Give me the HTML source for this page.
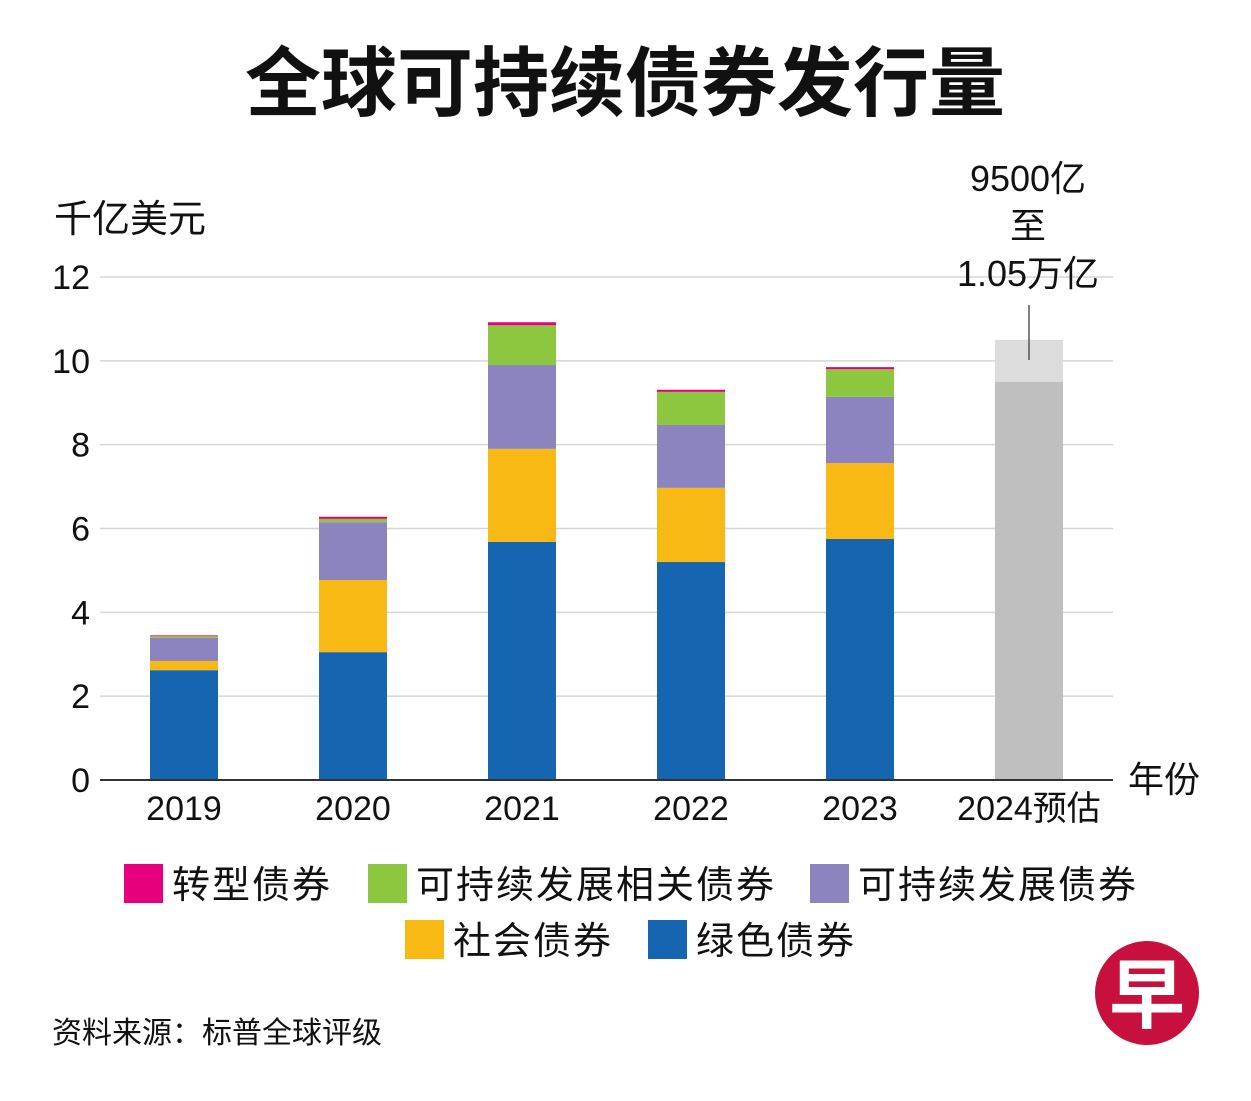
<!DOCTYPE html>
<html><head><meta charset="utf-8"><style>
body{margin:0;background:#fff;}
svg text{font-family:"Liberation Sans","Noto Sans CJK SC",sans-serif;}
</style></head><body>
<svg id="c" width="1251" height="1096" xmlns="http://www.w3.org/2000/svg">
<text x="625" y="110" text-anchor="middle" font-size="76" font-weight="bold" fill="#111">全球可持续债券发行量</text>
<text x="54" y="232" font-size="38" fill="#111">千亿美元</text>
<text x="1128" y="792" font-size="36" fill="#111">年份</text>
<g id="grid"></g><g id="bars"></g><g id="ticks"></g>
<text x="1028" y="191" text-anchor="middle" font-size="36" fill="#111">9500亿</text>
<text x="1028" y="238" text-anchor="middle" font-size="36" fill="#111">至</text>
<text x="1028" y="286" text-anchor="middle" font-size="36" fill="#111">1.05万亿</text>
<line x1="1029" y1="305" x2="1029" y2="360" stroke="#555" stroke-width="1.5"/>
<g font-size="38" letter-spacing="2" fill="#111">
<rect x="124" y="864" width="39" height="39" fill="#e6007e"/>
<text x="172" y="898">转型债券</text>
<rect x="368" y="864" width="39" height="39" fill="#8dc63f"/>
<text x="416" y="898">可持续发展相关债券</text>
<rect x="810" y="864" width="39" height="39" fill="#8b84bf"/>
<text x="858" y="898">可持续发展债券</text>
<rect x="405" y="920" width="39" height="39" fill="#f9b915"/>
<text x="453" y="954">社会债券</text>
<rect x="648" y="920" width="39" height="39" fill="#1565b0"/>
<text x="696" y="954">绿色债券</text>
</g>
<text x="52" y="1043" font-size="30" fill="#111">资料来源：标普全球评级</text>
<g>
<circle cx="1147" cy="993" r="52" fill="#c8103e"/>
<text x="1147" y="1022" text-anchor="middle" font-size="76" font-weight="bold" fill="#fff">早</text>
</g>
</svg>
<script>
const categories=["2019","2020","2021","2022","2023","2024预估"];
const green=[2.62,3.05,5.68,5.20,5.75,0];
const social=[0.22,1.72,2.22,1.77,1.81,0];
const sustainability=[0.55,1.38,2.00,1.50,1.58,0];
const linked=[0.04,0.08,0.95,0.79,0.66,0];
const transition=[0.02,0.05,0.07,0.05,0.05,0];
const forecastLow=[0,0,0,0,0,9.5];
const forecastHigh=[0,0,0,0,0,10.5];
const yTicks=[0,2,4,6,8,10,12];
const NS="http://www.w3.org/2000/svg";
const y=v=>780-v*(503/12);
const x=i=>150+i*169;
const BW=68;
function mk(t,a,p){const e=document.createElementNS(NS,t);for(const k in a)e.setAttribute(k,a[k]);p.appendChild(e);return e;}
const grid=document.getElementById('grid'),bars=document.getElementById('bars'),ticks=document.getElementById('ticks');
yTicks.forEach(v=>{
  if(v>0){const l=mk('line',{x1:100,x2:1113,y1:y(v),y2:y(v),stroke:'#d6d6d6','stroke-width':1.5},grid);
  
  }
  const t=mk('text',{x:90,y:y(v)+12,'text-anchor':'end','font-size':34,fill:'#111'},ticks);
  t.textContent=v;
  
  
});
const series=[["green",green,"#1565b0"],["social",social,"#f9b915"],["sustainability",sustainability,"#8b84bf"],["linked",linked,"#8dc63f"],["transition",transition,"#e6007e"]];
categories.forEach((c,i)=>{
  let base=0;
  series.forEach(([n,arr,col])=>{
    const v=arr[i]; if(v<=0)return;
    const r=mk('rect',{x:x(i),width:BW,y:y(base+v),height:y(base)-y(base+v),fill:col},bars);
    
    
    base+=v;
  });
  if(forecastHigh[i]>0){
    const r1=mk('rect',{x:x(i),width:BW,y:y(forecastHigh[i]),height:y(forecastLow[i])-y(forecastHigh[i]),fill:'#dcdcdc'},bars);
    
    
    const r2=mk('rect',{x:x(i),width:BW,y:y(forecastLow[i]),height:y(0)-y(forecastLow[i]),fill:'#bfbfbf'},bars);
    
    
  }
  const t=mk('text',{x:x(i)+BW/2,y:820,'text-anchor':'middle','font-size':34,fill:'#111'},ticks);
  t.textContent=c;
  
  
});
const ax=mk('line',{x1:100,x2:1113,y1:780,y2:780,stroke:'#333','stroke-width':2},ticks);


</script>
</body></html>
